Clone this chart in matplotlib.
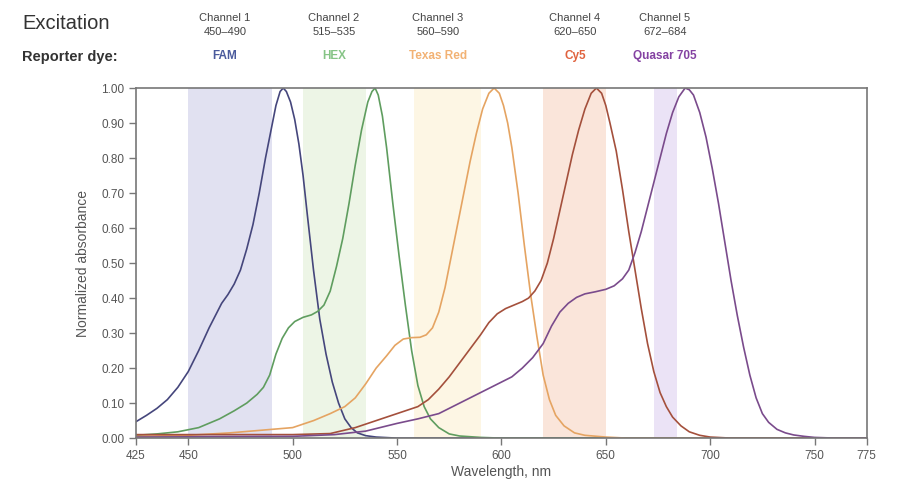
import numpy as np
import matplotlib
matplotlib.use("Agg")
import matplotlib.pyplot as plt

plt.rcParams['font.family'] = ['Liberation Sans', 'DejaVu Sans']

# absorbance spectra, wavelength (nm) -> normalized absorbance
fam_nm = [425, 430, 435, 440, 445, 450, 455, 460, 463, 466, 469, 472, 475, 478, 481, 484, 487,
          490, 492, 494, 495.5, 497, 499, 501, 503, 505, 507, 510, 513, 516, 519, 522, 525, 528,
          531, 535, 540, 550, 775]
fam_abs = [0.047, 0.065, 0.085, 0.11, 0.145, 0.19, 0.25, 0.315, 0.35, 0.385, 0.41, 0.44, 0.48,
           0.54, 0.61, 0.70, 0.80, 0.89, 0.95, 0.99, 1.00, 0.99, 0.96, 0.91, 0.84, 0.75, 0.64,
           0.48, 0.34, 0.24, 0.16, 0.10, 0.055, 0.03, 0.015, 0.007, 0.003, 0.0, 0.0]

hex_nm = [425, 435, 445, 455, 465, 472, 478, 483, 486, 489, 492, 495, 498, 501, 505, 509, 512,
          515, 518, 521, 524, 527, 530, 533, 536, 538, 539.5, 541, 543, 545, 548, 551, 554, 557,
          560, 563, 566, 570, 575, 580, 590, 600, 775]
hex_abs = [0.008, 0.012, 0.018, 0.03, 0.055, 0.078, 0.1, 0.125, 0.145, 0.18, 0.24, 0.285, 0.315,
           0.333, 0.345, 0.352, 0.362, 0.38, 0.42, 0.49, 0.57, 0.67, 0.78, 0.88, 0.96, 0.99, 1.00,
           0.98, 0.92, 0.83, 0.67, 0.52, 0.38, 0.25, 0.15, 0.09, 0.055, 0.03, 0.012, 0.006,
           0.002, 0.0, 0.0]

txr_nm = [425, 450, 470, 490, 500, 510, 518, 525, 530, 535, 540, 545, 549, 553, 557, 561, 564,
          567, 570, 573, 576, 579, 582, 585, 588, 591, 594, 596.5, 599, 601, 603, 605, 608, 611,
          614, 617, 620, 623, 626, 630, 635, 640, 650, 660, 775]
txr_abs = [0.005, 0.008, 0.015, 0.025, 0.03, 0.05, 0.07, 0.09, 0.115, 0.155, 0.2, 0.235, 0.265,
           0.283, 0.287, 0.288, 0.295, 0.315, 0.36, 0.43, 0.52, 0.61, 0.70, 0.79, 0.87, 0.94,
           0.985, 1.00, 0.985, 0.95, 0.90, 0.83, 0.70, 0.55, 0.41, 0.29, 0.18, 0.11, 0.065,
           0.035, 0.015, 0.008, 0.003, 0.0, 0.0]

cy5_nm = [425, 500, 518, 530, 540, 550, 560, 565, 570, 575, 580, 585, 590, 594, 598, 602, 606,
          610, 613, 616, 619, 622, 625, 628, 631, 634, 637, 640, 643, 645.5, 648, 650, 652, 655,
          658, 661, 664, 667, 670, 673, 676, 679, 682, 686, 690, 695, 700, 710, 775]
cy5_abs = [0.01, 0.01, 0.013, 0.03, 0.05, 0.07, 0.09, 0.11, 0.14, 0.175, 0.215, 0.255, 0.295,
           0.33, 0.355, 0.37, 0.38, 0.39, 0.40, 0.42, 0.45, 0.50, 0.57, 0.65, 0.73, 0.81, 0.88,
           0.94, 0.985, 1.00, 0.985, 0.95, 0.90, 0.82, 0.71, 0.59, 0.48, 0.37, 0.27, 0.19, 0.13,
           0.09, 0.06, 0.035, 0.018, 0.008, 0.003, 0.0, 0.0]

q705_nm = [425, 500, 520, 535, 550, 560, 570, 580, 590, 600, 605, 610, 615, 620, 624, 628, 632,
           636, 640, 645, 650, 654, 658, 661, 664, 667, 670, 673, 676, 679, 682, 685, 688, 690,
           692, 695, 698, 701, 704, 707, 710, 713, 716, 719, 722, 725, 728, 732, 736, 740, 745,
           750, 760, 775]
q705_abs = [0.003, 0.005, 0.01, 0.02, 0.042, 0.055, 0.07, 0.1, 0.13, 0.16, 0.175, 0.2, 0.23,
            0.27, 0.32, 0.36, 0.385, 0.402, 0.412, 0.418, 0.425, 0.435, 0.455, 0.48, 0.53, 0.59,
            0.66, 0.73, 0.80, 0.87, 0.93, 0.975, 1.00, 0.995, 0.98, 0.93, 0.86, 0.77, 0.67, 0.56,
            0.45, 0.35, 0.26, 0.18, 0.115, 0.07, 0.045, 0.025, 0.015, 0.009, 0.005, 0.002, 0.0,
            0.0]

channels = ['Channel 1', 'Channel 2', 'Channel 3', 'Channel 4', 'Channel 5']
ranges = ['450\u2013490', '515\u2013535', '560\u2013590', '620\u2013650', '672\u2013684']
dyes = ['FAM', 'HEX', 'Texas Red', 'Cy5', 'Quasar 705']
band_lo = [450, 505, 558, 620, 673]
band_hi = [490, 535, 590, 650, 684]

band_colors = ['#e1e1f1', '#edf5e6', '#fdf6e4', '#fae5da', '#ebe3f6']
line_colors = ['#45467c', '#5f9d5f', '#e5a462', '#a4503c', '#7a4b8c']
dye_colors = ['#4a5a9c', '#86c486', '#f2b274', '#e0623e', '#8442a2']
label_x = [225, 334, 438, 575, 665]

fig = plt.figure(figsize=(9.01, 5.03), dpi=100)
ax = fig.add_axes([0.151, 0.129, 0.811, 0.696])

for lo, hi, c in zip(band_lo, band_hi, band_colors):
    ax.axvspan(lo, hi, color=c, lw=0, zorder=0)

spectra = [(fam_nm, fam_abs), (hex_nm, hex_abs), (txr_nm, txr_abs),
           (cy5_nm, cy5_abs), (q705_nm, q705_abs)]
for (x, y), c in zip(spectra, line_colors):
    ax.plot(x, y, color=c, lw=1.2, zorder=2, solid_joinstyle='round')

ax.set_xlim(425, 775)
ax.set_ylim(0, 1.0)
ax.set_xticks([425, 450, 500, 550, 600, 650, 700, 750, 775])
ax.set_yticks(np.arange(0, 1.01, 0.1))
ax.set_yticklabels(['%.2f' % v for v in np.arange(0, 1.01, 0.1)])
ax.tick_params(direction='out', length=5, width=1, color='#777777',
               labelcolor='#555555', labelsize=8.5)
for s in ax.spines.values():
    s.set_color('#777777')
    s.set_linewidth(1.2)

ax.set_xlabel('Wavelength, nm', fontsize=10, color='#555555', labelpad=2)
ax.set_ylabel('Normalized absorbance', fontsize=10, color='#555555', labelpad=8)

W, H = 901, 503
fig.text(22 / W, 1 - 24 / H, 'Excitation', fontsize=14.5, color='#333333', va='center')
fig.text(22 / W, 1 - 57 / H, 'Reporter dye:', fontsize=10.5, fontweight='bold',
         color='#333333', va='center')
for i in range(5):
    fig.text(label_x[i] / W, 1 - 18 / H, channels[i], fontsize=8, color='#444444',
             ha='center', va='center')
    fig.text(label_x[i] / W, 1 - 32 / H, ranges[i], fontsize=8, color='#444444',
             ha='center', va='center')
    fig.text(label_x[i] / W, 1 - 56 / H, dyes[i], fontsize=8.5, fontweight='bold',
             color=dye_colors[i], ha='center', va='center')

fig.savefig('out.png', dpi=100)
